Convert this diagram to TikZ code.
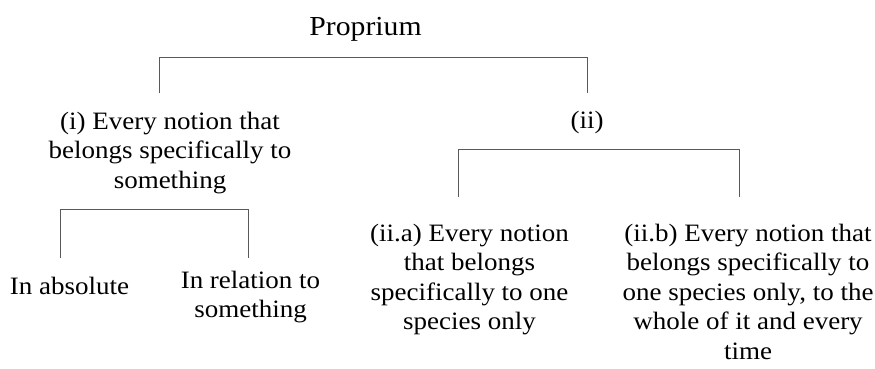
\documentclass[tikz,border=0pt]{standalone}
\usepackage{fontspec}
\setmainfont{Liberation Serif}[FakeStretch=1.08]
\begin{document}
\begin{tikzpicture}[x=1pt,y=-1pt,
  label text/.style={inner sep=0pt, anchor=base, align=center,
    font=\fontsize{25}{29.5}\selectfont},
  title text/.style={inner sep=0pt, anchor=base,
    font=\fontsize{27.5}{30}\selectfont},
  bracket/.style={draw=black!65, line width=1pt}]
\useasboundingbox (0,0) rectangle (875,368);

% text of the tree (multi-line nodes are placed by the baseline of their last line)
\node[title text] (prop) at (365.5,35) {Proprium};
\node[label text] (i) at (170,188) {(i) Every notion that\\belongs specifically to\\something};
\node[label text] (ii) at (587,128) {(ii)};
\node[label text] (iia) at (469.5,329.5) {(ii.a) Every notion\\that belongs\\specifically to one\\species only};
\node[label text] (iib) at (748,359) {(ii.b) Every notion that\\belongs specifically to\\one species only, to the\\whole of it and every\\time};
\node[label text] (abs) at (69.5,294) {In absolute};
\node[label text] (rel) at (250.5,317.5) {In relation to\\something};

% bracket ends
\coordinate (p-l) at (159.5,93.3);
\coordinate (p-ll) at (159.5,57.7);
\coordinate (p-rr) at (587,57.7);
\coordinate (p-r) at (587,93.3);

\coordinate (ii-l) at (458.5,196.7);
\coordinate (ii-ll) at (458.5,149.3);
\coordinate (ii-rr) at (739,149.3);
\coordinate (ii-r) at (739,196.7);

\coordinate (i-l) at (60,257.7);
\coordinate (i-ll) at (60,209);
\coordinate (i-rr) at (248.3,209);
\coordinate (i-r) at (248.3,257.7);

% brackets
\draw[bracket] (p-l) -- (p-ll) -- (p-rr) -- (p-r);
\draw[bracket] (ii-l) -- (ii-ll) -- (ii-rr) -- (ii-r);
\draw[bracket] (i-l) -- (i-ll) -- (i-rr) -- (i-r);
\end{tikzpicture}
\end{document}
